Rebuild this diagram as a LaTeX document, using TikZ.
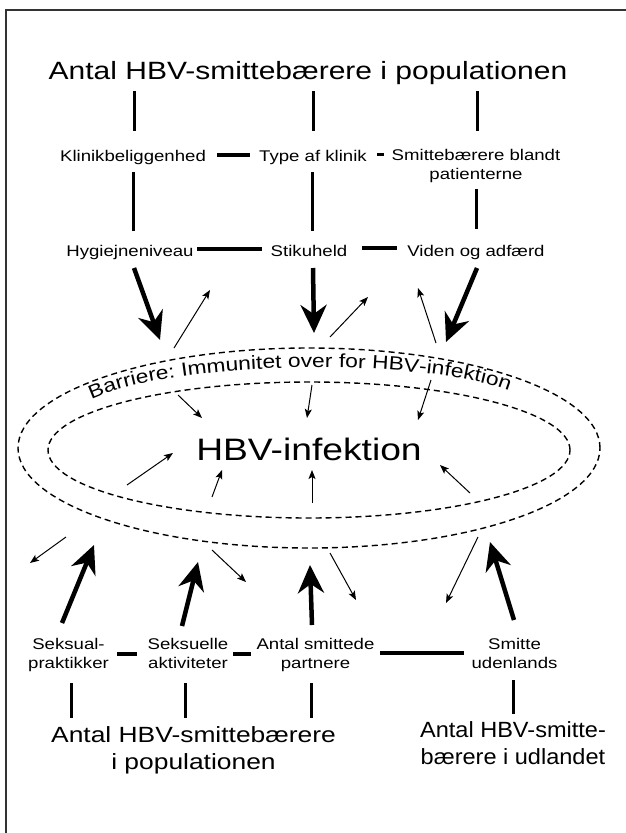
\documentclass[tikz,border=0pt]{standalone}
\usepackage{fontspec}
\setmainfont{Liberation Sans}[FakeStretch=1.2]
\newfontfamily\narrowfont{Liberation Sans}[FakeStretch=1.07]
\usetikzlibrary{arrows.meta,shapes.geometric,decorations.text}

\begin{document}
\begin{tikzpicture}[x=1pt,y=-1pt,
  lab/.style={font=\fontsize{15.5}{19.5}\selectfont, inner sep=0pt, align=center},
  big/.style={font=\fontsize{22}{27.5}\selectfont, inner sep=0pt, align=center},
  vbar/.style={line width=3pt},
  hbar/.style={line width=3.5pt},
  bigarrow/.style={line width=4.5pt, -{Stealth[length=28pt,width=26pt,inset=9pt]}},
  smallarrow/.style={line width=1pt, -{Stealth[length=9pt,width=7pt,inset=2pt]}},
  barrier/.style={draw, ellipse, inner sep=0pt, line width=1.4pt, dash pattern=on 6pt off 4pt},
]
\useasboundingbox (0,0) rectangle (626,833);
% frame
\draw[line width=1.3pt, black!80] (6,833) -- (6,10) -- (626,10);

% texts
\node[anchor=base, inner sep=0pt, font=\fontsize{25}{30}\selectfont] (title) at (308,79) {Antal HBV-smittebærere i populationen};
\node[lab, anchor=base] (klinik) at (133,161) {Klinikbeliggenhed};
\node[lab, anchor=base] (type) at (313,161) {Type af klinik};
\node[lab, anchor=north] (smitpat) at (476,149) {Smittebærere blandt\\patienterne};
\node[lab, anchor=base] (hyg) at (130,256) {Hygiejneniveau};
\node[lab, anchor=base] (stik) at (309,256) {Stikuheld};
\node[lab, anchor=base] (viden) at (476,256) {Viden og adfærd};

% ellipses
\node[barrier, minimum width=582pt, minimum height=200pt] (outer) at (309,448) {};
\node[barrier, minimum width=522pt, minimum height=136pt] (inner) at (309,450) {};
\node[anchor=base, inner sep=0pt, font=\fontsize{31}{36}\selectfont] (hbv) at (309,460) {HBV-infektion};
\path[decorate, decoration={text along path, text align=center,
  text={|\fontsize{19}{19}\selectfont|Barriere: Immunitet over for HBV-infektion}}]
  (94,398) .. controls (180,360) and (420,358) .. (506,390);

\node[lab, anchor=north] (seksprak) at (68.5,638) {Seksual-\\praktikker};
\node[lab, anchor=north] (seksakt) at (188,638) {Seksuelle\\aktiviteter};
\node[lab, anchor=north] (antpart) at (315.5,638) {Antal smittede\\partnere};
\node[lab, anchor=north] (smudl) at (514.5,638) {Smitte\\udenlands};
\node[big, anchor=north] (antpop) at (193.5,726) {Antal HBV-smittebærere\\i populationen};
\node[big, anchor=north, font=\narrowfont\fontsize{22}{27.5}\selectfont] (antudl) at (513,721) {Antal HBV-smitte-\\bærere i udlandet};

% vertical and horizontal bars
\foreach \n/\xa/\ya/\xb/\yb in {tv1/134/91/134/131, tv2/313/91/313/131, tv3/477/91/477/131,
  mv1/133/172/133/231, mv2/312/172/312/231, mv3/476/189/476/229,
  bv1/71/683/71/718, bv2/185/683/185/718, bv3/311/683/311/718, bv4/513/680/513/714}{
  \coordinate (\n-s) at (\xa,\ya); \coordinate (\n-e) at (\xb,\yb);
  \draw[vbar] (\n-s) -- (\n-e);}
\foreach \n/\xa/\ya/\xb/\yb in {h1/217/155/250/155, h2/377/154.5/384/154.5,
  h3/197/249/262/249, h4/362/248/397/248,
  h5/117/654/137/654, h6/233/654/251/654, h7/380/653/464/653}{
  \coordinate (\n-s) at (\xa,\ya); \coordinate (\n-e) at (\xb,\yb);
  \draw[hbar] (\n-s) -- (\n-e);}

% thick arrows
\foreach \n/\xa/\ya/\xb/\yb in {ta1/134/268/160/340, ta2/313/268/314/333, ta3/477/268/446/342,
  ba1/62/623/94/545, ba2/182/626/198/562, ba3/312/625/310/565, ba4/514/620/490/542}{
  \coordinate (\n-s) at (\xa,\ya); \coordinate (\n-e) at (\xb,\yb);
  \draw[bigarrow] (\n-s) -- (\n-e);}

% thin arrows
\foreach \n/\xa/\ya/\xb/\yb in {o1/174/348/210/290, o2/330/337/368/297, o3/436/343/418/288,
  i1/178/395/202/418, i2/312/385/307/418, i3/431/380/418/420,
  u1/127/485/173/453, u2/212/497/222/470, u3/312/503/312/470, u4/470/493/440/465,
  d1/66/537/30/563, d2/212/550/246/582, d3/330/553/356/600, d4/478/537/446/603}{
  \coordinate (\n-s) at (\xa,\ya); \coordinate (\n-e) at (\xb,\yb);
  \draw[smallarrow] (\n-s) -- (\n-e);}
\end{tikzpicture}
\end{document}
